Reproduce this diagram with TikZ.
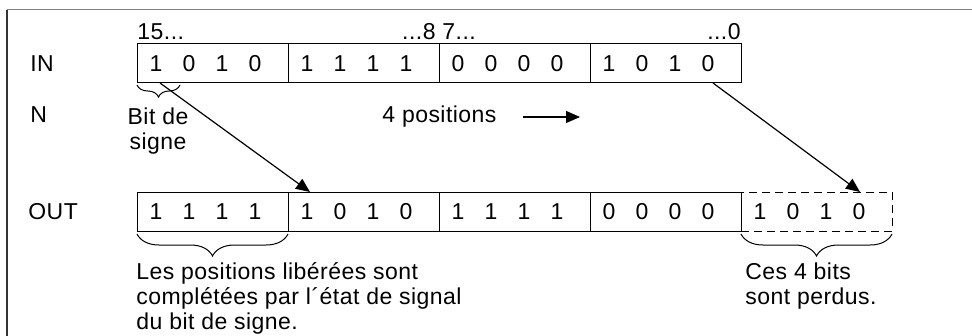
\documentclass[tikz,border=0pt]{standalone}
\usepackage{fontspec}
\setmainfont{Liberation Sans}[LetterSpace=2]
\usepackage{tikz}
\usetikzlibrary{positioning,arrows.meta,calc,decorations.pathreplacing}

% four bits of one byte half, on a fixed pitch
\newcommand{\nibble}[4]{\makebox[16.5pt][l]{#1}\makebox[16.5pt][l]{#2}\makebox[16.5pt][l]{#3}#4}

\begin{document}
\begin{tikzpicture}[x=0.5pt, y=-0.5pt,
    every node/.style={font=\fontsize{11.5}{12.5}\selectfont},
    cell/.style={rectangle, draw, line width=0.5pt, outer sep=0pt, inner xsep=6.3pt, inner ysep=0pt, text width=62.9pt, align=left, minimum height=19.5pt},
    lostcell/.style={cell, dash pattern=on 4pt off 2.5pt},
    rowlabel/.style={anchor=west, inner sep=0pt},
    bitindex/.style={inner sep=0pt},
    note/.style={inner sep=0pt, align=left},
    underbrace/.style={decorate, decoration={brace, mirror, amplitude=#1}, line width=0.5pt},
    underbrace/.default=10pt,
    movearrow/.style={-{Triangle[length=7pt,width=6pt]}, line width=0.6pt}
]

\useasboundingbox (0,0) rectangle (972,336);

% Frame (only the left and top edges are visible)
\draw[black!80, line width=1pt] (7,10) -- (7,336);
\draw[gray, line width=0.5pt] (7,10) -- (972,10);

% Row labels
\node[rowlabel] (inlbl) at (30,64) {IN};
\node[rowlabel] (nlbl) at (30,115) {N};
\node[rowlabel] (outlbl) at (28,212) {OUT};

% Input word, 16 bits in four cells
\node[cell, anchor=west] (in1) at (137,63.5) {\nibble1010};
\node[cell, right=0pt of in1] (in2) {\nibble1111};
\node[cell, right=0pt of in2] (in3) {\nibble0000};
\node[cell, right=0pt of in3] (in4) {\nibble1010};

% Bit numbers above the input word
\node[bitindex, anchor=base west] (msb) at ($(in1.north west)+(0,-4)$) {15...};
\node[bitindex, anchor=base] (midbits) at ($(in2.north east)+(0,-4)$) {...8 7...};
\node[bitindex, anchor=base east] (lsb) at ($(in4.north east)+(0,-4)$) {...0};

% Sign bit
\draw[underbrace=6pt] ($(in1.south west)+(0,2)$) -- ($(in1.south west)+(43,2)$);
\node[note, align=center, anchor=north] (signlbl) at ($(in1.south west)+(21,24)$) {Bit de\\signe};

% Shift count
\node[note, anchor=base west] (npos) at (382,123) {4 positions};
\coordinate (shiftstart) at (523,117);
\coordinate (shiftend) at (580,117);
\draw[movearrow] (shiftstart) -- (shiftend);

% Output word, the last cell drops out
\node[cell, anchor=west] (out1) at (137,211.5) {\nibble1111};
\node[cell, right=0pt of out1] (out2) {\nibble1010};
\node[cell, right=0pt of out2] (out3) {\nibble1111};
\node[cell, right=0pt of out3] (out4) {\nibble0000};
\node[lostcell, right=0pt of out4] (out5) {\nibble1010};

% Where the bits go
\draw[movearrow] ($(in1.south west)+(23,0)$) -- ($(out2.north west)+(22,0)$);
\draw[movearrow] ($(in4.south west)+(123,0)$) -- ($(out5.north west)+(119,0)$);

% Notes under the output word
\draw[underbrace=11pt] ($(out1.south west)+(0,3)$) -- ($(out1.south east)+(0,3)$);
\node[note, anchor=north west] (fillnote) at (136,262) {Les positions libérées sont\\complétées par l´état de signal\\du bit de signe.};

\draw[underbrace=11pt] ($(out5.south west)+(0,3)$) -- ($(out5.south east)+(0,3)$);
\node[note, anchor=north west] (lostnote) at (745,262) {Ces 4 bits\\sont perdus.};

\end{tikzpicture}
\end{document}
